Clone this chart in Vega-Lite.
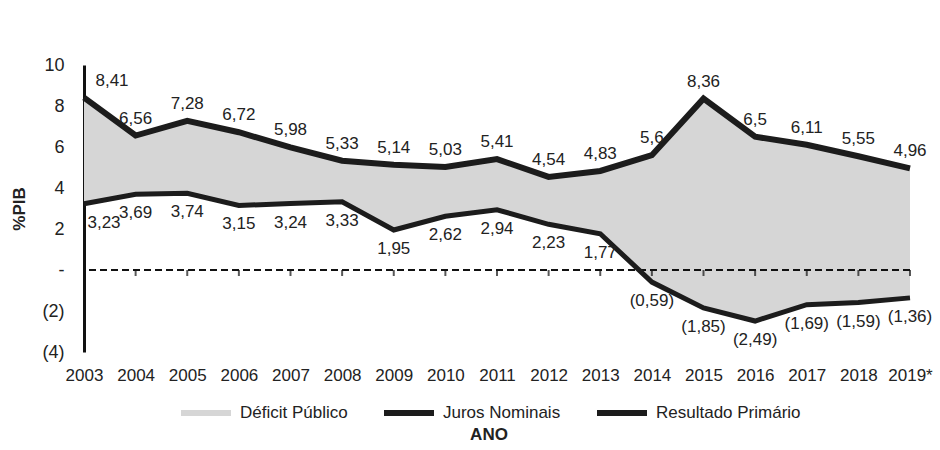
{
  "$schema": "https://vega.github.io/schema/vega-lite/v6.json",
  "width": 826,
  "height": 287,
  "autosize": "none",
  "padding": {"left": 84, "top": 65, "right": 30, "bottom": 98},
  "background": "white",
  "config": {
    "locale": {"number": {"decimal": ",", "thousands": ".", "grouping": [3], "currency": ["R$ ", ""]}},
    "view": {"stroke": null},
    "font": "Liberation Sans",
    "axis": {"grid": false}
  },
  "data": {
    "values": [
      {"ano": "2003", "juros": 8.41, "primario": 3.23},
      {"ano": "2004", "juros": 6.56, "primario": 3.69},
      {"ano": "2005", "juros": 7.28, "primario": 3.74},
      {"ano": "2006", "juros": 6.72, "primario": 3.15},
      {"ano": "2007", "juros": 5.98, "primario": 3.24},
      {"ano": "2008", "juros": 5.33, "primario": 3.33},
      {"ano": "2009", "juros": 5.14, "primario": 1.95},
      {"ano": "2010", "juros": 5.03, "primario": 2.62},
      {"ano": "2011", "juros": 5.41, "primario": 2.94},
      {"ano": "2012", "juros": 4.54, "primario": 2.23},
      {"ano": "2013", "juros": 4.83, "primario": 1.77},
      {"ano": "2014", "juros": 5.6, "primario": -0.59},
      {"ano": "2015", "juros": 8.36, "primario": -1.85},
      {"ano": "2016", "juros": 6.5, "primario": -2.49},
      {"ano": "2017", "juros": 6.11, "primario": -1.69},
      {"ano": "2018", "juros": 5.55, "primario": -1.59},
      {"ano": "2019*", "juros": 4.96, "primario": -1.36}
    ]
  },
  "layer": [
    {
      "mark": {"type": "area", "opacity": 1},
      "encoding": {
        "x": {"field": "ano", "type": "ordinal", "sort": null, "scale": {"type": "point", "padding": 0},
          "axis": {"title": null, "domain": false, "ticks": false, "labelAngle": 0, "labelPadding": 15, "labelFontSize": 17, "labelColor": "#222", "labelFont": "Liberation Sans"}},
        "y": {"field": "juros", "type": "quantitative", "scale": {"domain": [-4, 10], "nice": false},
          "axis": {"title": "%PIB", "titleFontSize": 17, "titleFontWeight": "bold", "titleColor": "#222", "titlePadding": 14,
            "values": [10, 8, 6, 4, 2, 0, -2, -4],
            "labelExpr": "datum.value == 0 ? '-' : (datum.value < 0 ? '(' + abs(datum.value) + ')' : datum.value)",
            "labelFontSize": 18, "labelColor": "#222", "labelPadding": 20, "ticks": false,
            "domainColor": "#111", "domainWidth": 3}},
        "y2": {"field": "primario"},
        "color": {"datum": "Déficit Público", "type": "nominal",
          "scale": {"domain": ["Déficit Público", "Juros Nominais", "Resultado Primário"], "range": ["#d6d6d6", "#1c1c1c", "#1c1c1c"]},
          "legend": {
            "orient": "none", "legendX": 94, "legendY": 320, "direction": "horizontal", "columns": 3,
            "symbolType": "stroke", "symbolSize": 2500, "symbolStrokeWidth": 6,
            "labelFontSize": 17, "labelColor": "#222", "labelOffset": 6, "columnPadding": 24,
            "title": "ANO", "titleOrient": "bottom", "titleAnchor": "middle", "titleFontSize": 17, "titleFontWeight": "bold", "titleColor": "#222", "titlePadding": 2,
            "encode": {"symbols": {"update": {
              "stroke": {"scale": "color", "field": "value"},
              "fill": {"value": "transparent"},
              "opacity": {"value": 1},
              "strokeWidth": {"signal": "datum.value == 'Déficit Público' ? 11 : 6"}
            }}}
          }}
      }
    },
    {
      "data": {"values": [{}]},
      "mark": {"type": "rule", "strokeDash": [7, 4], "strokeWidth": 2, "color": "#111"},
      "encoding": {"y": {"datum": 0}}
    },
    {
      "transform": [{"filter": "datum.ano != '2003'"}],
      "mark": {"type": "tick", "orient": "vertical", "size": 6, "thickness": 2, "yOffset": 3, "color": "#111"},
      "encoding": {
        "x": {"field": "ano", "type": "ordinal", "sort": null},
        "y": {"datum": 0}
      }
    },
    {
      "mark": {"type": "line", "strokeWidth": 6, "strokeJoin": "miter"},
      "encoding": {
        "x": {"field": "ano", "type": "ordinal", "sort": null},
        "y": {"field": "juros", "type": "quantitative"},
        "color": {"datum": "Juros Nominais", "type": "nominal"}
      }
    },
    {
      "mark": {"type": "line", "strokeWidth": 5, "strokeJoin": "miter"},
      "encoding": {
        "x": {"field": "ano", "type": "ordinal", "sort": null},
        "y": {"field": "primario", "type": "quantitative"},
        "color": {"datum": "Resultado Primário", "type": "nominal"}
      }
    },
    {
      "transform": [{"filter": "datum.ano != '2003'"}],
      "mark": {"type": "text", "dy": -17, "fontSize": 17, "color": "#222"},
      "encoding": {
        "x": {"field": "ano", "type": "ordinal", "sort": null},
        "y": {"field": "juros", "type": "quantitative"},
        "text": {"field": "juros", "type": "quantitative", "format": "(.2~f"}
      }
    },
    {
      "transform": [{"filter": "datum.ano != '2003'"}],
      "mark": {"type": "text", "dy": 19, "fontSize": 17, "color": "#222"},
      "encoding": {
        "x": {"field": "ano", "type": "ordinal", "sort": null},
        "y": {"field": "primario", "type": "quantitative"},
        "text": {"field": "primario", "type": "quantitative", "format": "(.2~f"}
      }
    },
    {
      "transform": [{"filter": "datum.ano == '2003'"}],
      "mark": {"type": "text", "dy": -17, "dx": 28, "fontSize": 17, "color": "#222"},
      "encoding": {
        "x": {"field": "ano", "type": "ordinal", "sort": null},
        "y": {"field": "juros", "type": "quantitative"},
        "text": {"field": "juros", "type": "quantitative", "format": "(.2~f"}
      }
    },
    {
      "transform": [{"filter": "datum.ano == '2003'"}],
      "mark": {"type": "text", "dy": 19, "dx": 20, "fontSize": 17, "color": "#222"},
      "encoding": {
        "x": {"field": "ano", "type": "ordinal", "sort": null},
        "y": {"field": "primario", "type": "quantitative"},
        "text": {"field": "primario", "type": "quantitative", "format": "(.2~f"}
      }
    }
  ]
}
